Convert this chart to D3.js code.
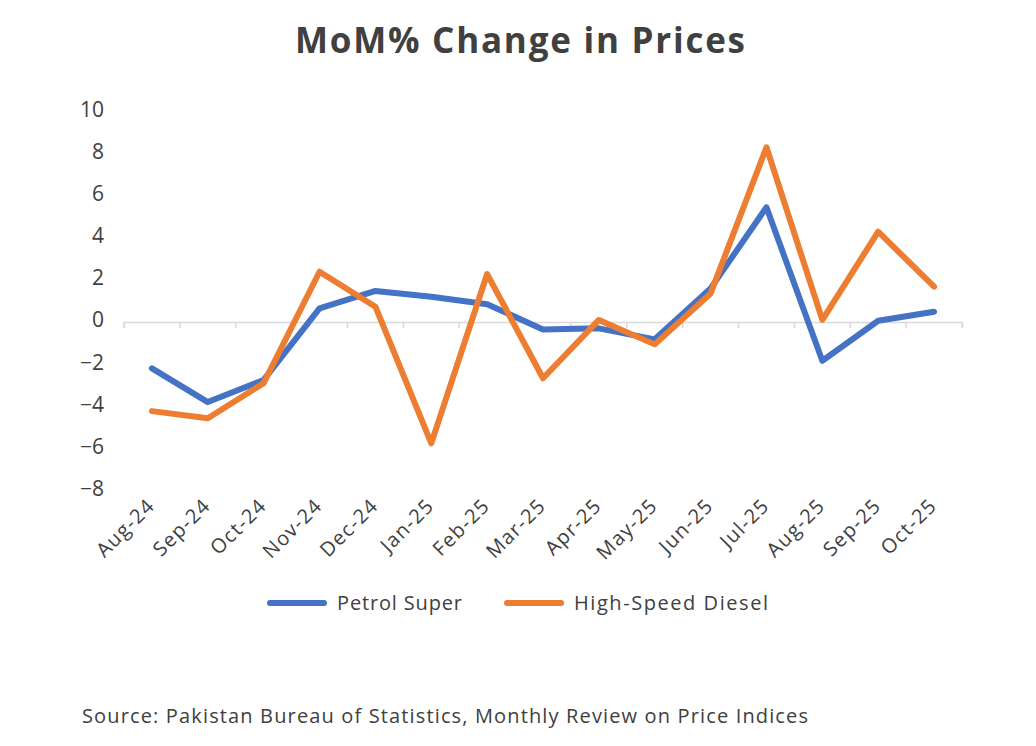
<!DOCTYPE html>
<html>
<head>
<meta charset="utf-8">
<title>MoM% Change in Prices</title>
<style>
  body, html { margin: 0; padding: 0; background: #fff; }
  svg { display: block; font-family: "Open Sans", Inter, sans-serif; }
</style>
</head>
<body>
<svg id="svg" width="1036" height="746"></svg>
<script src="https://d3js.org/d3.v7.min.js"></script>
<script>
  // values
  const months = ['Aug-24', 'Sep-24', 'Oct-24', 'Nov-24', 'Dec-24', 'Jan-25', 'Feb-25', 'Mar-25',
    'Apr-25', 'May-25', 'Jun-25', 'Jul-25', 'Aug-25', 'Sep-25', 'Oct-25']
  const petrolSuper = [-2.2, -3.8, -2.75, 0.65, 1.48, 1.2, 0.85, -0.35, -0.3, -0.82, 1.6, 5.45, -1.84, 0.06, 0.49]
  const highSpeedDiesel = [-4.23, -4.57, -2.9, 2.39, 0.73, -5.76, 2.28, -2.67, 0.1, -1.06, 1.36, 8.3, 0.1, 4.29, 1.68]
  const yTicks = [-8, -6, -4, -2, 0, 2, 4, 6, 8, 10]
  const seriesNames = ['Petrol Super', 'High-Speed Diesel']
  const seriesColors = ['#4472C4', '#ED7D31']

  const series = [petrolSuper, highSpeedDiesel]
  const textColor = '#404040'
  const svg = d3.select('#svg')

  // stretch a text with letter-spacing so it covers the width seen in the reference
  function spread(sel, target) {
    sel.each(function () {
      const len = this.getComputedTextLength()
      const n = this.textContent.length
      if (n > 1) d3.select(this).attr('letter-spacing', (target - len) / (n - 1))
    })
  }

  const x = d3.scaleBand().domain(months).range([124, 962])
  const y = d3.scaleLinear().domain([-8, 10]).range([490.5, 111.5])

  svg.append('text')
    .attr('x', 295).attr('y', 53)
    .attr('font-size', 35).attr('font-weight', 700)
    .attr('fill', textColor)
    .text('MoM% Change in Prices')
    .call(spread, 450)

  // y labels, no axis line
  svg.append('g').selectAll('text')
    .data(yTicks)
    .enter()
    .append('text')
    .attr('x', 104)
    .attr('y', d => y(d) - 2)
    .attr('dy', '0.35em')
    .attr('text-anchor', 'end')
    .attr('font-size', 21)
    .attr('fill', textColor)
    .text(d => d < 0 ? '\u2212' + Math.abs(d) : d)

  // category axis sitting on zero
  const xAxis = d3.axisBottom(x).tickSize(6).tickFormat('')
  const gx = svg.append('g')
    .attr('transform', `translate(0, ${y(0)})`)
    .call(xAxis)
  gx.select('.domain').attr('stroke', '#d9d9d9').attr('stroke-width', 1.5)
  gx.selectAll('.tick line')
    .attr('stroke', '#d9d9d9').attr('stroke-width', 1.5)
    .attr('transform', `translate(${-x.bandwidth() / 2}, 0)`)
  gx.append('line')
    .attr('x1', x.range()[1]).attr('x2', x.range()[1])
    .attr('y1', 0).attr('y2', 6)
    .attr('stroke', '#d9d9d9').attr('stroke-width', 1.5)

  // rotated month labels along the bottom
  svg.append('g').selectAll('text')
    .data(months)
    .enter()
    .append('text')
    .attr('transform', d => `translate(${x(d) + x.bandwidth() / 2 + 4}, 507) rotate(-45)`)
    .attr('text-anchor', 'end')
    .attr('font-size', 20)
    .attr('letter-spacing', 1.3)
    .attr('fill', textColor)
    .text(d => d)

  const line = d3.line()
    .x((d, i) => x(months[i]) + x.bandwidth() / 2)
    .y(d => y(d))

  svg.append('g').selectAll('path')
    .data(series)
    .enter()
    .append('path')
    .attr('d', line)
    .attr('fill', 'none')
    .attr('stroke', (d, i) => seriesColors[i])
    .attr('stroke-width', 6)
    .attr('stroke-linejoin', 'round')
    .attr('stroke-linecap', 'round')

  // legend
  const legendX = [268, 505]
  const legendW = [125, 194]
  const legend = svg.append('g').selectAll('g')
    .data(seriesNames)
    .enter()
    .append('g')
    .attr('transform', (d, i) => `translate(${legendX[i]}, 603)`)
  legend.append('line')
    .attr('x1', 2).attr('x2', 56)
    .attr('stroke', (d, i) => seriesColors[i])
    .attr('stroke-width', 6)
    .attr('stroke-linecap', 'round')
  legend.append('text')
    .attr('x', 69).attr('dy', '0.35em')
    .attr('font-size', 20)
    .attr('fill', textColor)
    .text(d => d)
    .each(function (d, i) { d3.select(this).call(spread, legendW[i]) })

  svg.append('text')
    .attr('x', 82).attr('y', 723)
    .attr('font-size', 20)
    .attr('fill', textColor)
    .text('Source: Pakistan Bureau of Statistics, Monthly Review on Price Indices')
    .call(spread, 726)
</script>
</body>
</html>
